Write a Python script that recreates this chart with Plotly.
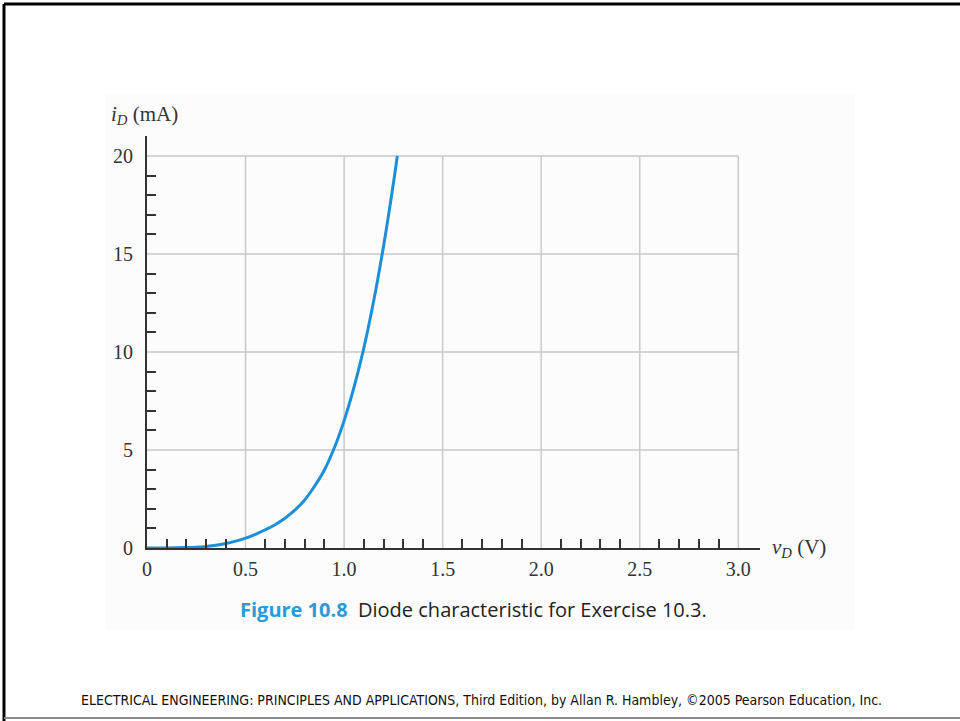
import plotly.graph_objects as go

# Diode characteristic data
v_d = [0.0, 0.1, 0.2, 0.25, 0.3, 0.35, 0.4, 0.45, 0.5, 0.55, 0.6, 0.65, 0.7, 0.75,
       0.8, 0.85, 0.9, 0.95, 1.0, 1.05, 1.1, 1.15, 1.2, 1.25, 1.27]
i_d = [0.0, 0.0, 0.02, 0.04, 0.08, 0.14, 0.23, 0.35, 0.5, 0.7, 0.93, 1.19, 1.52, 1.93,
       2.45, 3.15, 3.98, 5.1, 6.5, 8.2, 10.2, 12.6, 15.4, 18.6, 20.0]

x_tickvals = [0, 0.5, 1.0, 1.5, 2.0, 2.5, 3.0]
x_ticktext = ["0", "0.5", "1.0", "1.5", "2.0", "2.5", "3.0"]
y_tickvals = [0, 5, 10, 15, 20]
y_ticktext = ["0", "5", "10", "15", "20"]
x_minor = [round(0.1 * k, 1) for k in range(1, 30) if k % 5 != 0]
y_minor = [k for k in range(1, 20) if k % 5 != 0]

grid_color = "#c9c9c9"
axis_color = "#333333"

fig = go.Figure()
fig.add_trace(go.Scatter(
    x=v_d, y=i_d, mode="lines",
    line=dict(color="#1c8fd9", width=3, shape="spline", smoothing=1.0),
    hoverinfo="skip", showlegend=False,
))

shapes = []
# subtle background of the figure image
shapes.append(dict(type="rect", xref="paper", yref="paper", layer="below",
                   x0=-0.0685, x1=1.155, y0=-0.199, y1=1.0995,
                   fillcolor="#fcfcfc", line=dict(width=0)))
# grid box (only up to 3.0 V and 20 mA)
for xv in x_tickvals[1:]:
    shapes.append(dict(type="line", xref="x", yref="y", layer="below",
                       x0=xv, x1=xv, y0=0, y1=y_tickvals[-1],
                       line=dict(color=grid_color, width=1.5)))
for yv in y_tickvals[1:]:
    shapes.append(dict(type="line", xref="x", yref="y", layer="below",
                       x0=0, x1=x_tickvals[-1], y0=yv, y1=yv,
                       line=dict(color=grid_color, width=1.5)))
# page frame lines
shapes += [
    dict(type="line", xref="paper", yref="paper", x0=-0.2333, x1=1.4, y0=1.3204, y1=1.3204,
         line=dict(color="black", width=3)),
    dict(type="line", xref="paper", yref="paper", x0=-0.2333, x1=-0.2333, y0=-0.42, y1=1.3204,
         line=dict(color="black", width=3)),
    dict(type="line", xref="paper", yref="paper", x0=-0.2333, x1=1.4, y0=-0.4126, y1=-0.4126,
         line=dict(color="#8a8a8a", width=2)),
]

tick_font = dict(family="Liberation Serif", size=20, color="#333")

fig.update_layout(
    width=960, height=721,
    margin=dict(l=147, r=200, t=136, b=173),
    paper_bgcolor="white", plot_bgcolor="rgba(0,0,0,0)",
    shapes=shapes,
    xaxis=dict(range=[0, 3.11], showgrid=False, zeroline=False,
               showline=True, linecolor=axis_color, linewidth=2,
               tickmode="array", tickvals=x_tickvals, ticktext=x_ticktext,
               ticks="", tickfont=tick_font, ticklabelstandoff=2,
               minor=dict(tickmode="array", tickvals=x_minor, ticks="inside",
                          ticklen=9, tickwidth=1.5, tickcolor=axis_color, showgrid=False),
               fixedrange=True),
    yaxis=dict(range=[0, 21.02], showgrid=False, zeroline=False,
               showline=True, linecolor=axis_color, linewidth=2,
               tickmode="array", tickvals=y_tickvals, ticktext=y_ticktext,
               ticks="", tickfont=tick_font, ticklabelstandoff=8,
               minor=dict(tickmode="array", tickvals=y_minor, ticks="inside",
                          ticklen=9, tickwidth=1.5, tickcolor=axis_color, showgrid=False),
               fixedrange=True),
    annotations=[
        dict(text="<i>i</i><sub><i>D</i></sub> (mA)", xref="paper", yref="paper",
             x=-0.062, y=1.051, xanchor="left", yanchor="middle", showarrow=False,
             font=dict(family="Liberation Serif", size=21, color="#333")),
        dict(text="<i>v</i><sub><i>D</i></sub> (V)", xref="paper", yref="paper",
             x=1.0163, y=0.0, xanchor="left", yanchor="middle", showarrow=False,
             font=dict(family="Liberation Serif", size=21, color="#333")),
        dict(text="<b><span style='color:#2a9ad8'>Figure 10.8</span></b>  Diode characteristic for Exercise 10.3.",
             xref="paper", yref="paper", x=0.532, y=-0.150, xanchor="center", yanchor="middle",
             showarrow=False, font=dict(family="Open Sans", size=20, color="#222")),
        dict(text="ELECTRICAL ENGINEERING: PRINCIPLES AND APPLICATIONS, Third Edition, by Allan R. Hambley, ©2005 Pearson Education, Inc.",
             xref="paper", yref="paper", x=0.545, y=-0.369, xanchor="center", yanchor="middle",
             showarrow=False, font=dict(family="DejaVu Sans Condensed", size=14, color="#111")),
    ],
)

fig.write_html("out.html", config={"displayModeBar": False},
               post_script="document.body.style.margin='0px';document.body.style.overflow='hidden';")
